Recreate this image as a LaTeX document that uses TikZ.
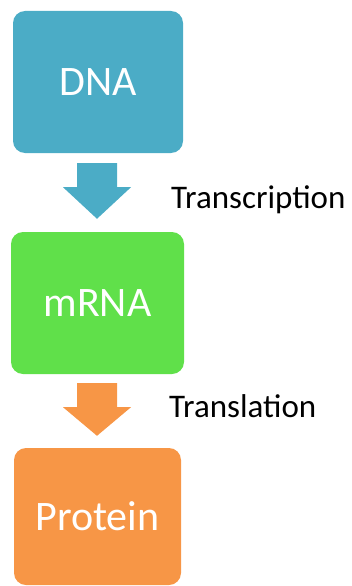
\documentclass[tikz,border=0pt]{standalone}
\usepackage{fontspec}
\setmainfont{Carlito}
\usetikzlibrary{calc}
\definecolor{dnablue}{HTML}{4BACC6}
\definecolor{rnagreen}{HTML}{60E04A}
\definecolor{protorange}{HTML}{F79646}
\tikzset{
  stage/.style={rounded corners=12pt, inner sep=0pt, text=white,
    font=\fontsize{42}{42}\selectfont},
  label/.style={anchor=base west, inner sep=0pt, text=black,
    font=\fontsize{33}{33}\selectfont},
}
% block arrow: shaft starts at #2, head tip at #3
\newcommand{\blockarrow}[3]{%
  \fill[#1] ($(#2)+(-20pt,0)$) -- ($(#2)+(20pt,0)$) -- ($(#2)+(20pt,-24pt)$)
    -- ($(#2)+(34pt,-24pt)$) -- (#3) -- ($(#2)+(-34pt,-24pt)$)
    -- ($(#2)+(-20pt,-24pt)$) -- cycle;}
\begin{document}
\begin{tikzpicture}[x=1pt,y=-1pt]
  \useasboundingbox (0,0) rectangle (352,586);
  % the three stages
  \node[stage, fill=dnablue, minimum width=170pt, minimum height=142pt]
    (dna) at (98,82) {DNA};
  \node[stage, fill=rnagreen, minimum width=173pt, minimum height=142pt]
    (mrna) at (97.5,303) {mRNA};
  \node[stage, fill=protorange, minimum width=167pt, minimum height=137pt]
    (protein) at (97.5,516.5) {Protein};
  % block arrows between the stages
  \coordinate (a1) at ($(dna.south)+(-1,10)$);
  \coordinate (t1) at ($(mrna.north)+(-0.5,-13)$);
  \blockarrow{dnablue}{a1}{t1}
  \coordinate (a2) at ($(mrna.south)+(-0.5,9)$);
  \coordinate (t2) at ($(protein.north)+(-0.5,-12)$);
  \blockarrow{protorange}{a2}{t2}
  % process labels
  \node[label] (transcription) at (171,208) {Transcription};
  \node[label] (translation) at (169,417) {Translation};
\end{tikzpicture}
\end{document}
